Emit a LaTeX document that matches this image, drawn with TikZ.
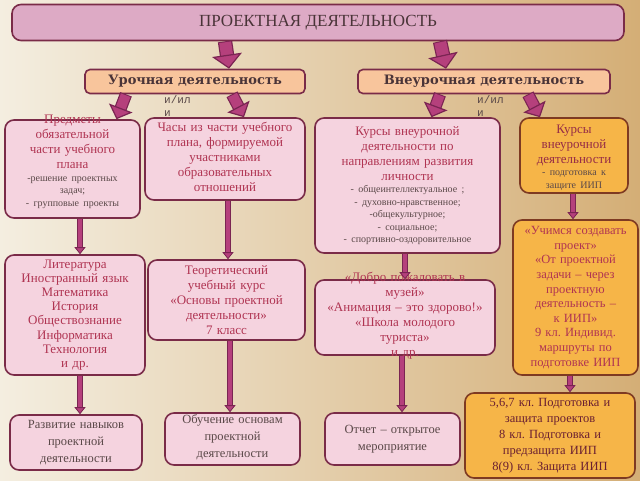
\documentclass[tikz,border=0pt]{standalone}
\usepackage{fontspec}
\setmainfont{Liberation Serif}
\newfontfamily\headfont{DejaVu Serif}
\newfontfamily\orfont{Liberation Mono}
\usepackage{tikz}
\usetikzlibrary{arrows.meta, calc}
\frenchspacing

\definecolor{bgl}{HTML}{F4EEE0}
\definecolor{bgr}{HTML}{D4AE76}
\definecolor{topfill}{HTML}{DDAAC5}
\definecolor{pinkfill}{HTML}{F5D3DF}
\definecolor{pinkline}{HTML}{7A2B48}
\definecolor{peachfill}{HTML}{F8C59C}
\definecolor{orfill}{HTML}{F6B548}
\definecolor{orline}{HTML}{7E3A22}
\definecolor{fatfill}{HTML}{B5407C}
\definecolor{fatline}{HTML}{7A2452}
\definecolor{txtred}{HTML}{B03452}
\definecolor{txtgray}{HTML}{5A4848}
\definecolor{txtdark}{HTML}{4A3438}

% small lines under a heading
\newcommand{\smtext}[1]{{\fontsize{10}{12.5}\selectfont\color{txtgray}#1\par}}

\begin{document}
\begin{tikzpicture}[
		x=1pt, y=-1pt,
		box/.style={draw=pinkline, fill=pinkfill, line width=1.6pt, rounded corners=9pt, inner sep=0pt},
		topbox/.style={box, fill=topfill},
		levelbox/.style={box, fill=peachfill, rounded corners=5pt},
		orbox/.style={box, draw=orline, fill=orfill},
		txt/.style={align=center, inner sep=0pt, text=txtred, font=\fontsize{13}{15}\selectfont},
		low txt/.style={txt, text=txtgray, font=\fontsize{12.5}{17}\selectfont},
		orword/.style={align=left, inner sep=0pt, text=txtgray, font=\orfont\fontsize{11}{13}\selectfont},
		bigfat/.style={draw=fatfill, line width=12pt, shorten <=1pt,
			-{Triangle[width=30pt, length=14pt, line width=1.2pt, color=fatline, fill=fatfill]},
			preaction={draw=fatline, line width=14.4pt, -, shorten >=12pt, shorten <=0pt}},
		smallfat/.style={draw=fatfill, line width=10pt, shorten <=1pt,
			-{Triangle[width=25pt, length=12pt, line width=1.2pt, color=fatline, fill=fatfill]},
			preaction={draw=fatline, line width=12.4pt, -, shorten >=10pt, shorten <=0pt}},
		thin arrow/.style={draw=fatfill, line width=4pt,
			-{Triangle[width=11pt, length=7pt, line width=0.8pt, color=fatline, fill=fatfill]},
			preaction={draw=fatline, line width=5.6pt, -, shorten >=6pt}}
		]

	% Background
	\useasboundingbox (0,0) rectangle (640,480);
	\shade[left color=bgl, right color=bgr] (0,0) rectangle (640,480);

	% Level 1
	\node[topbox, minimum width=612pt, minimum height=36pt, text=txtdark,
		font=\fontsize{17}{20}\selectfont] (top) at (318,22.5) {ПРОЕКТНАЯ ДЕЯТЕЛЬНОСТЬ};

	% Level 2
	\node[levelbox, minimum width=220pt, minimum height=24pt, text=txtdark,
		font=\headfont\bfseries\fontsize{13}{15}\selectfont] (uroch) at (195,81.5) {Урочная деятельность};
	\node[levelbox, minimum width=252pt, minimum height=24pt, text=txtdark,
		font=\headfont\bfseries\fontsize{13}{15}\selectfont] (vneur) at (484,81.5) {Внеурочная деятельность};

	\node[orword, anchor=north west] (or1) at (164,95) {и/ил\\и};
	\node[orword, anchor=north west] (or2) at (477,95) {и/ил\\и};

	% Level 3
	\node[box, minimum width=135pt, minimum height=98pt] (A) at (72.5,169) {};
	\node[txt, text width=130pt] (At) at ([yshift=7pt]A) {Предметы\\обязательной\\части учебного\\плана\par
		\smtext{-решение проектных\\задач;\\- групповые проекты}};

	\node[box, minimum width=160pt, minimum height=82pt] (B) at (225,159) {};
	\node[txt, text width=155pt] (Bt) at ([yshift=2pt]B) {Часы из части учебного\\плана, формируемой\\участниками\\образовательных\\отношений};

	\node[box, minimum width=185pt, minimum height=135pt] (C) at (407.5,185.5) {};
	\node[txt, text width=180pt] (Ct) at (C) {Курсы внеурочной\\деятельности по\\направлениям развития\\личности\par
		\smtext{- общеинтеллектуальное ;\\- духовно-нравственное;\\-общекультурное;\\- социальное;\\- спортивно-оздоровительное}};

	\node[orbox, minimum width=108pt, minimum height=75pt] (D) at (574,155.5) {};
	\node[txt, text width=104pt, text=txtred!85!black] (Dt) at ([yshift=-2pt]D) {Курсы\\внеурочной\\деятельности\par
		\smtext{- подготовка к\\защите ИИП}};

	% Level 4
	\node[box, minimum width=140pt, minimum height=120pt] (E) at (75,315) {};
	\node[txt, text width=136pt, font=\fontsize{13}{14.2}\selectfont] (Et) at (E) {Литература\\Иностранный язык\\Математика\\История\\Обществознание\\Информатика\\Технология\\и др.};

	\node[box, minimum width=157pt, minimum height=80pt] (F) at (226.5,300) {};
	\node[txt, text width=150pt] (Ft) at (F) {Теоретический\\учебный курс\\«Основы проектной\\деятельности»\\7 класс};

	\node[box, minimum width=180pt, minimum height=75pt] (G) at (405,317.5) {};
	\node[txt, text width=176pt] (Gt) at ([yshift=2pt]G) {«Добро пожаловать в\\музей»\\«Анимация – это здорово!»\\«Школа молодого\\туриста»\\и др.};

	\node[orbox, minimum width=125pt, minimum height=155pt] (H) at (575.5,297.5) {};
	\node[txt, text width=120pt, font=\fontsize{12.5}{14.6}\selectfont] (Ht) at (H) {«Учимся создавать\\проект»\\«От проектной\\задачи – через\\проектную\\деятельность –\\к ИИП»\\9 кл. Индивид.\\маршруты по\\подготовке ИИП};

	% Level 5
	\node[box, minimum width=132pt, minimum height=55pt] (I) at (76,442.5) {};
	\node[low txt, text width=128pt] (It) at (I) {Развитие навыков\\проектной\\деятельности};

	\node[box, minimum width=135pt, minimum height=52pt] (J) at (232.5,439) {};
	\node[low txt, text width=130pt] (Jt) at ([yshift=2pt]J) {Обучение основам\\проектной\\деятельности};

	\node[box, minimum width=135pt, minimum height=52pt] (K) at (392.5,439) {};
	\node[low txt, text width=130pt] (Kt) at (K) {Отчет – открытое\\мероприятие};

	\node[orbox, minimum width=170pt, minimum height=85pt] (L) at (550,435.5) {};
	\node[low txt, text width=165pt, text=txtred!60!black, font=\fontsize{12.5}{16}\selectfont] (Lt) at (L) {5,6,7 кл. Подготовка и\\защита проектов\\8 кл. Подготовка и\\предзащита ИИП\\8(9) кл. Защита ИИП};

	% Fat arrows
	\draw[bigfat] ([xshift=-93pt]top.south) -- ([xshift=34pt]uroch.north);
	\draw[bigfat] ([xshift=122pt]top.south) -- ([xshift=-38pt]vneur.north);
	\draw[smallfat] ([xshift=-69pt]uroch.south) -- ([xshift=44pt]A.north);
	\draw[smallfat] ([xshift=37pt]uroch.south) -- ([xshift=19pt]B.north);
	\draw[smallfat] ([xshift=-44pt]vneur.south) -- ([xshift=24pt]C.north);
	\draw[smallfat] ([xshift=44pt]vneur.south) -- ([xshift=-34pt]D.north);

	% Thin arrows
	\foreach \a/\b/\dx in {A/E/7.5, B/F/3, C/G/-2.5, D/H/-1, E/I/5, F/J/3.5, G/K/-3, H/L/-5.5}{
		\path ([xshift=\dx pt]\a.south) coordinate (s);
		\draw[thin arrow] (s) -- (s |- \b.north);
	}

\end{tikzpicture}
\end{document}
